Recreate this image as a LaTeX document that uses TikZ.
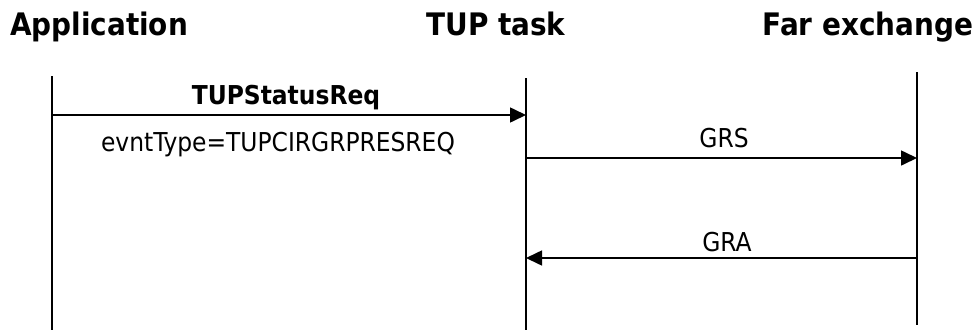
\documentclass[tikz,border=0pt]{standalone}
\usepackage{fontspec}
\setmainfont{DejaVu Sans Condensed}
\usetikzlibrary{arrows.meta,positioning}

\begin{document}
\begin{tikzpicture}[x=1pt,y=-1pt,
        lifeline/.style={line width=1.6pt},
        msg/.style={line width=1.6pt,-{Triangle[length=16pt,width=15pt]}},
        header/.style={font=\fontsize{31}{36}\selectfont\bfseries, anchor=base},
        lbl/.style={font=\fontsize{26}{30}\selectfont, anchor=base, inner sep=0pt}]
        \useasboundingbox (0,0) rectangle (979,330);
        \node [header] (app) at (99,35) {Application};
        \node [header] (tup) at (496,35) {TUP task};
        \node [header] (far) at (868,35) {Far exchange};
        \coordinate (appTop) at (52,76);
        \coordinate (appBot) at (52,330);
        \coordinate (tupTop) at (526,78);
        \coordinate (tupBot) at (526,330);
        \coordinate (farTop) at (917,72);
        \coordinate (farBot) at (917,325);
        \draw [lifeline] (appTop) -- (appBot);
        \draw [lifeline] (tupTop) -- (tupBot);
        \draw [lifeline] (farTop) -- (farBot);
        % messages
        \coordinate (req1) at (52,115);
        \coordinate (req2) at (526,115);
        \coordinate (grs1) at (526,158);
        \coordinate (grs2) at (917,158);
        \coordinate (gra1) at (917,258);
        \coordinate (gra2) at (526,258);
        \draw [msg] (req1) -- (req2);
        \draw [msg] (grs1) -- (grs2);
        \draw [msg] (gra1) -- (gra2);
        \node [lbl, font=\fontsize{26}{30}\selectfont\bfseries] (reqName) at (286,104) {TUPStatusReq};
        \node [lbl] (reqType) at (278,151) {evntType=TUPCIRGRPRESREQ};
        \node [lbl] (grsName) at (724,147) {GRS};
        \node [lbl] (graName) at (727,251) {GRA};
\end{tikzpicture}
\end{document}
